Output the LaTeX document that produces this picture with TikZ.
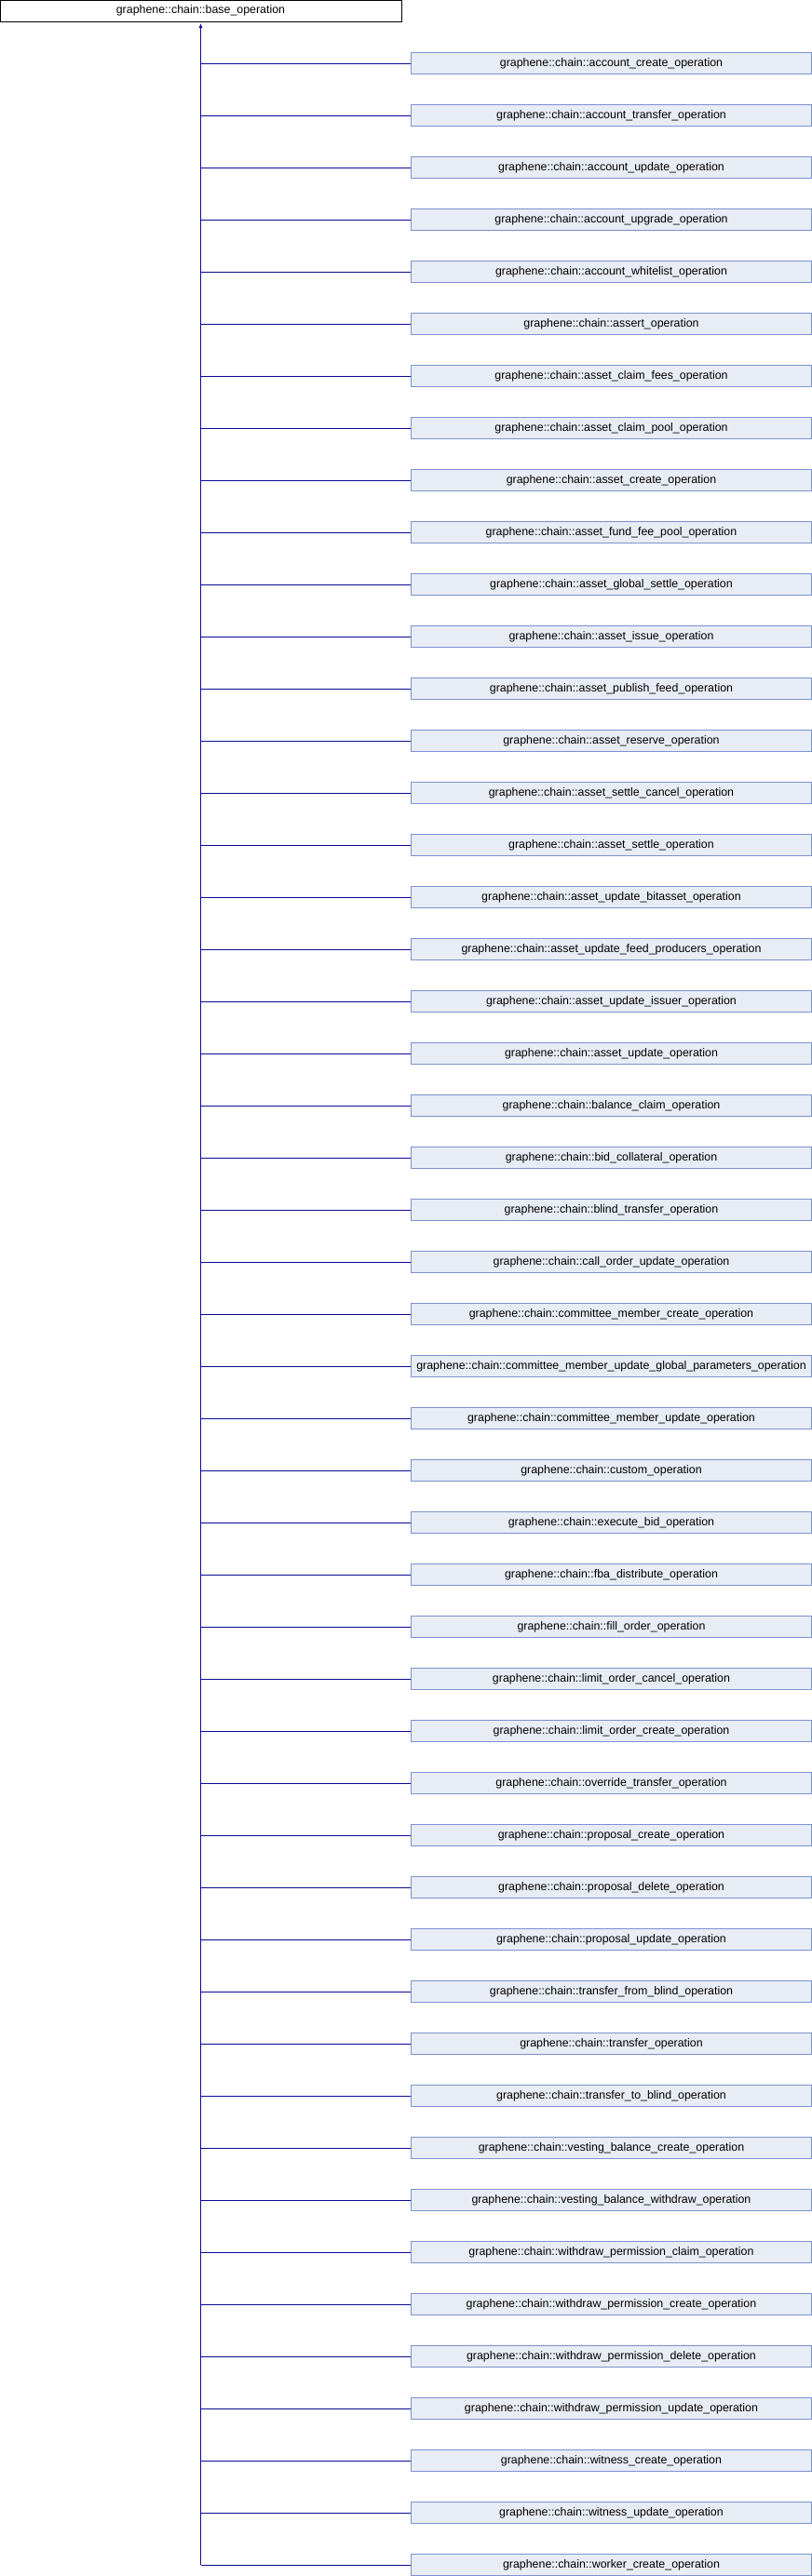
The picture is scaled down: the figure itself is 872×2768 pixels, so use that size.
\documentclass[tikz,border=0pt]{standalone}
\usepackage{fontspec}
\setmainfont{Liberation Sans}
\usetikzlibrary{arrows.meta}
\definecolor{edgeblue}{RGB}{10,10,150}
\definecolor{boxborder}{RGB}{124,146,204}
\definecolor{boxfill}{RGB}{232,236,245}
\begin{document}
\begin{tikzpicture}[x=1pt,y=-1pt,
  basebox/.style={draw=black,fill=white,line width=1pt,minimum width=431pt,minimum height=23pt,inner sep=0pt,font=\fontsize{12.4pt}{14pt}\selectfont},
  childbox/.style={draw=boxborder,fill=boxfill,line width=1pt,minimum width=430pt,minimum height=23pt,inner sep=0pt,font=\fontsize{12.4pt}{14pt}\selectfont},
  edge/.style={draw=edgeblue,line width=1pt},
  trunkline/.style={draw=edgeblue,line width=0.8pt,-{Latex[length=5pt,width=4pt]}}]
\useasboundingbox (0,0) rectangle (872,2768);
\node[basebox] (base) at (215.5,11.5) {graphene::chain::base\_operation};
\foreach \n [count=\i from 0] in {account\_create\_operation,account\_transfer\_operation,account\_update\_operation,account\_upgrade\_operation,account\_whitelist\_operation,assert\_operation,asset\_claim\_fees\_operation,asset\_claim\_pool\_operation,asset\_create\_operation,asset\_fund\_fee\_pool\_operation,asset\_global\_settle\_operation,asset\_issue\_operation,asset\_publish\_feed\_operation,asset\_reserve\_operation,asset\_settle\_cancel\_operation,asset\_settle\_operation,asset\_update\_bitasset\_operation,asset\_update\_feed\_producers\_operation,asset\_update\_issuer\_operation,asset\_update\_operation,balance\_claim\_operation,bid\_collateral\_operation,blind\_transfer\_operation,call\_order\_update\_operation,committee\_member\_create\_operation,committee\_member\_update\_global\_parameters\_operation,committee\_member\_update\_operation,custom\_operation,execute\_bid\_operation,fba\_distribute\_operation,fill\_order\_operation,limit\_order\_cancel\_operation,limit\_order\_create\_operation,override\_transfer\_operation,proposal\_create\_operation,proposal\_delete\_operation,proposal\_update\_operation,transfer\_from\_blind\_operation,transfer\_operation,transfer\_to\_blind\_operation,vesting\_balance\_create\_operation,vesting\_balance\_withdraw\_operation,withdraw\_permission\_claim\_operation,withdraw\_permission\_create\_operation,withdraw\_permission\_delete\_operation,withdraw\_permission\_update\_operation,witness\_create\_operation,witness\_update\_operation,worker\_create\_operation}{
  \node[childbox] (c\i) at (656.5,{68+56*\i}) {graphene::chain::\n};
  \draw[edge] (c\i.west) -- (c\i.west -| base.south);
}
\coordinate (trunk) at (c48.west -| base.south);
\draw[trunkline] (trunk) -- ([yshift=-1.5pt]base.south);
\end{tikzpicture}
\end{document}
